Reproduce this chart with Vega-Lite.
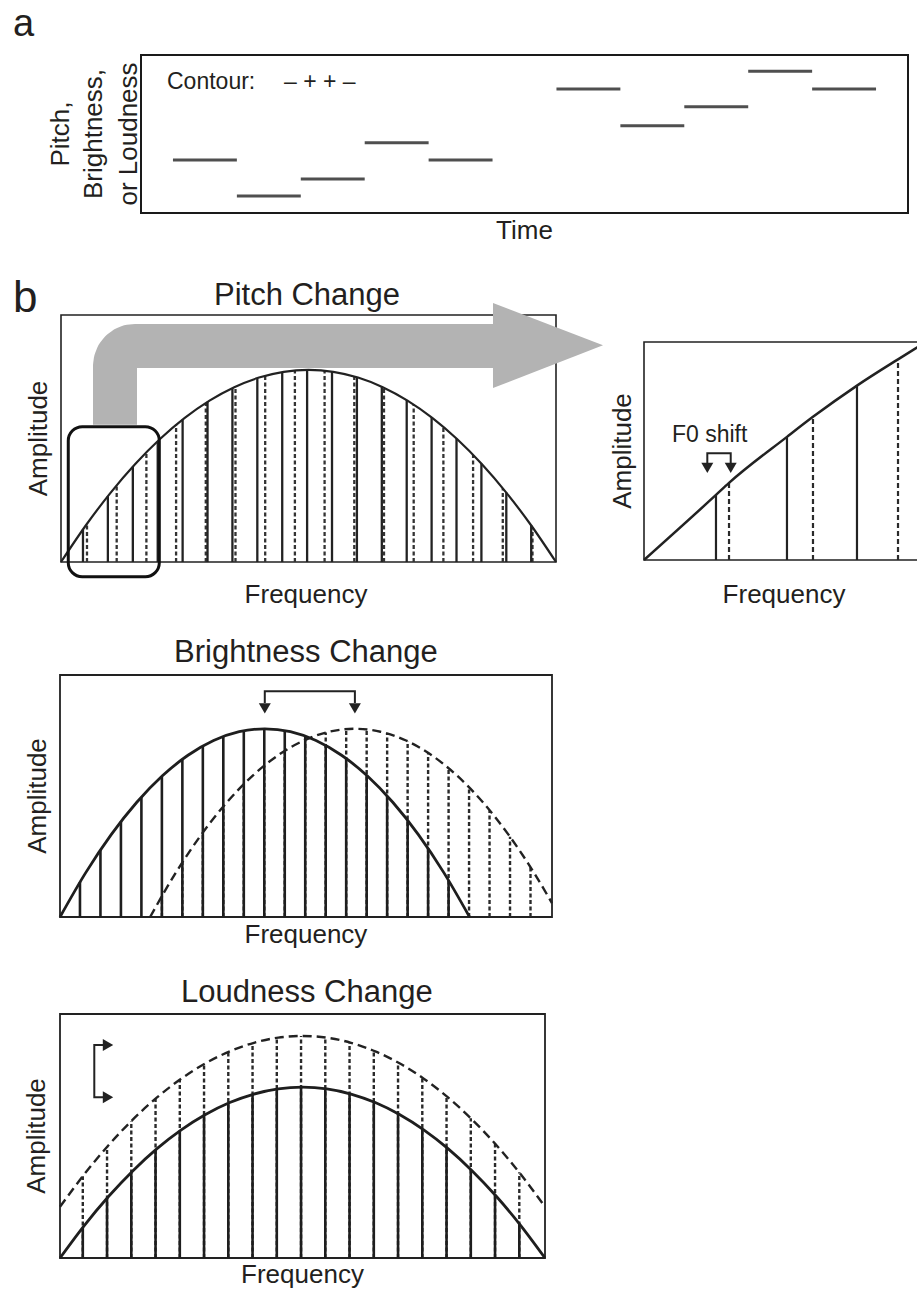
{
"$schema":"https://vega.github.io/schema/vega-lite/v6.json",
"width":917,"height":1289,"padding":0,"autosize":{"type":"none"},"background":"white",
"config":{"view":{"stroke":null},"axis":{"disable":true},"font":"Liberation Sans"},
"resolve":{"scale":{"x":"independent","y":"independent"}},
"layer":[
{"encoding":{"x":{"field":"x","type":"quantitative","scale":{"domain":[0,12],"range":[141,908],"nice":false,"zero":false},"axis":null},"y":{"field":"y","type":"quantitative","scale":{"domain":[0,10],"range":[213,55],"nice":false,"zero":false},"axis":null}},
"layer":[
{"data":{"values":[{"x":0,"x2":12,"y":0,"y2":10}]},"mark":{"type":"rect","filled":false,"color":"#1a1a1a","strokeWidth":2},"encoding":{"x2":{"field":"x2"},"y2":{"field":"y2"}}},
{"data":{"values":[{"x":0.5,"x2":1.5,"y":3.35},{"x":1.5,"x2":2.5,"y":1.08},{"x":2.5,"x2":3.5,"y":2.15},{"x":3.5,"x2":4.5,"y":4.45},{"x":4.5,"x2":5.5,"y":3.35},{"x":6.5,"x2":7.5,"y":7.85},{"x":7.5,"x2":8.5,"y":5.53},{"x":8.5,"x2":9.5,"y":6.73},{"x":9.5,"x2":10.5,"y":8.97},{"x":10.5,"x2":11.5,"y":7.85}]},"mark":{"type":"rule","color":"#4f4f4f","strokeWidth":3},"encoding":{"x2":{"field":"x2"}}},
{"data":{"values":[{"x":-2.003,"y":11.2,"label":"a"}]},"mark":{"type":"text","font":"Liberation Sans","fontSize":38,"align":"left","baseline":"alphabetic","color":"#231f20"},"encoding":{"text":{"field":"label"}}},
{"data":{"values":[{"x":0.407,"y":7.83,"label":"Contour:"},{"x":2.238,"y":7.83,"label":"– + + –"}]},"mark":{"type":"text","font":"Liberation Sans","fontSize":23,"align":"left","baseline":"alphabetic","color":"#231f20"},"encoding":{"text":{"field":"label"}}},
{"data":{"values":[{"x":-1.127,"y":5,"label":"Pitch,"},{"x":-0.61,"y":5,"label":"Brightness,"},{"x":-0.063,"y":5,"label":"or Loudness"}]},"mark":{"type":"text","font":"Liberation Sans","fontSize":26,"angle":270,"align":"center","baseline":"alphabetic","color":"#231f20"},"encoding":{"text":{"field":"label"}}},
{"data":{"values":[{"x":6,"y":-1.66,"label":"Time"}]},"mark":{"type":"text","font":"Liberation Sans","fontSize":26,"align":"center","baseline":"alphabetic","color":"#231f20"},"encoding":{"text":{"field":"label"}}}
]},
{"encoding":{"x":{"field":"x","type":"quantitative","scale":{"domain":[0,10],"range":[61,556],"nice":false,"zero":false},"axis":null},"y":{"field":"y","type":"quantitative","scale":{"domain":[0,9],"range":[562,315],"nice":false,"zero":false},"axis":null}},
"layer":[
{"data":{"values":[{"x":0,"x2":10,"y":0,"y2":9}]},"mark":{"type":"rect","filled":false,"color":"#222222","strokeWidth":1.6},"encoding":{"x2":{"field":"x2"},"y2":{"field":"y2"}}},
{"data":{"values":[{"x":1},{"x":2},{"x":3},{"x":4},{"x":5},{"x":6},{"x":7},{"x":8},{"x":9}]},"mark":{"type":"point","shape":"M0,0V1","size":64,"filled":false,"color":"#333333","strokeWidth":1,"opacity":1},"encoding":{"y":{"datum":9,"type":"quantitative","scale":{"domain":[0,9],"range":[562,315],"nice":false,"zero":false},"axis":null}}},
{"data":{"values":[{"x":1},{"x":2},{"x":3},{"x":4},{"x":5},{"x":6},{"x":7},{"x":8},{"x":9}]},"mark":{"type":"point","shape":"M0,0V-1","size":64,"filled":false,"color":"#333333","strokeWidth":1,"opacity":1},"encoding":{"y":{"datum":0,"type":"quantitative","scale":{"domain":[0,9],"range":[562,315],"nice":false,"zero":false},"axis":null}}},
{"data":{"values":[{"y":1},{"y":2},{"y":3},{"y":4},{"y":5},{"y":6},{"y":7},{"y":8}]},"mark":{"type":"point","shape":"M0,0H1","size":64,"filled":false,"color":"#333333","strokeWidth":1,"opacity":1},"encoding":{"x":{"datum":0,"type":"quantitative","scale":{"domain":[0,10],"range":[61,556],"nice":false,"zero":false},"axis":null}}},
{"data":{"values":[{"y":1},{"y":2},{"y":3},{"y":4},{"y":5},{"y":6},{"y":7},{"y":8}]},"mark":{"type":"point","shape":"M0,0H-1","size":64,"filled":false,"color":"#333333","strokeWidth":1,"opacity":1},"encoding":{"x":{"datum":10,"type":"quantitative","scale":{"domain":[0,10],"range":[61,556],"nice":false,"zero":false},"axis":null}}},
{"data":{"values":[{"x":0.525,"y":1.39},{"x":1.125,"y":2.8},{"x":1.725,"y":4.0},{"x":2.325,"y":5.0},{"x":2.925,"y":5.79},{"x":3.525,"y":6.39},{"x":4.125,"y":6.79},{"x":4.725,"y":6.98},{"x":5.325,"y":6.97},{"x":5.925,"y":6.76},{"x":6.525,"y":6.35},{"x":7.125,"y":5.74},{"x":7.725,"y":4.92},{"x":8.325,"y":3.9},{"x":8.925,"y":2.69},{"x":9.525,"y":1.27}]},"mark":{"type":"rule","color":"#333333","strokeWidth":2.3,"strokeDash":[4,2.5]},"encoding":{"y":{"datum":0,"type":"quantitative","scale":{"domain":[0,9],"range":[562,315],"nice":false,"zero":false},"axis":null},"y2":{"field":"y"}}},
{"data":{"values":[{"x":0.444,"y":1.19},{"x":0.947,"y":2.4},{"x":1.451,"y":3.47},{"x":1.954,"y":4.4},{"x":2.457,"y":5.19},{"x":2.96,"y":5.84},{"x":3.463,"y":6.34},{"x":3.966,"y":6.7},{"x":4.469,"y":6.92},{"x":4.972,"y":7.0},{"x":5.475,"y":6.94},{"x":5.978,"y":6.73},{"x":6.481,"y":6.39},{"x":6.984,"y":5.9},{"x":7.487,"y":5.27},{"x":7.99,"y":4.5},{"x":8.493,"y":3.58},{"x":8.996,"y":2.53},{"x":9.499,"y":1.33}]},"mark":{"type":"rule","color":"#222222","strokeWidth":2.3},"encoding":{"y":{"datum":0,"type":"quantitative","scale":{"domain":[0,9],"range":[562,315],"nice":false,"zero":false},"axis":null},"y2":{"field":"y"}}},
{"data":{"values":[{"x":0,"y":0},{"x":0.5,"y":1.33},{"x":1,"y":2.52},{"x":1.5,"y":3.57},{"x":2,"y":4.48},{"x":2.5,"y":5.25},{"x":3,"y":5.88},{"x":3.5,"y":6.37},{"x":4,"y":6.72},{"x":4.5,"y":6.93},{"x":5,"y":7.0},{"x":5.5,"y":6.93},{"x":6,"y":6.72},{"x":6.5,"y":6.37},{"x":7,"y":5.88},{"x":7.5,"y":5.25},{"x":8,"y":4.48},{"x":8.5,"y":3.57},{"x":9,"y":2.52},{"x":9.5,"y":1.33},{"x":10,"y":0}]},"mark":{"type":"line","color":"#222222","strokeWidth":2.2,"interpolate":"monotone"}},
{"data":{"values":[{"x":0.147,"x2":1.986,"y":-0.536,"y2":4.931}]},"mark":{"type":"rect","filled":false,"color":"#111111","strokeWidth":3,"cornerRadius":14},"encoding":{"x2":{"field":"x2"},"y2":{"field":"y2"}}},
{"data":{"values":[{"i":1,"x":1.091,"y":5.0},{"i":2,"x":1.091,"y":7.143},{"i":3,"x":1.105,"y":7.332},{"i":4,"x":1.145,"y":7.507},{"i":5,"x":1.209,"y":7.658},{"i":6,"x":1.293,"y":7.774},{"i":7,"x":1.39,"y":7.847},{"i":8,"x":1.495,"y":7.872},{"i":9,"x":8.75,"y":7.872}]},"mark":{"type":"line","color":"#b3b3b3","strokeWidth":44,"strokeCap":"butt","strokeJoin":"round"},"encoding":{"order":{"field":"i","type":"quantitative"}}},
{"data":{"values":[{"x":8.727,"y":6.34,"y2":9.44},{"x":10.95,"y":7.9,"y2":7.9}]},"mark":{"type":"area","color":"#b3b3b3","orient":"vertical","opacity":1},"encoding":{"y2":{"field":"y2"}}},
{"data":{"values":[{"x":-0.97,"y":9.11,"label":"b"}]},"mark":{"type":"text","font":"Liberation Sans","fontSize":44,"align":"left","baseline":"alphabetic","color":"#231f20"},"encoding":{"text":{"field":"label"}}},
{"data":{"values":[{"x":4.97,"y":9.366,"label":"Pitch Change"}]},"mark":{"type":"text","font":"Liberation Sans","fontSize":31,"align":"center","baseline":"alphabetic","color":"#231f20"},"encoding":{"text":{"field":"label"}}},
{"data":{"values":[{"x":4.95,"y":-1.494,"label":"Frequency"}]},"mark":{"type":"text","font":"Liberation Sans","fontSize":26,"align":"center","baseline":"alphabetic","color":"#231f20"},"encoding":{"text":{"field":"label"}}},
{"data":{"values":[{"x":-0.283,"y":4.5,"label":"Amplitude"}]},"mark":{"type":"text","font":"Liberation Sans","fontSize":26,"angle":270,"align":"center","baseline":"alphabetic","color":"#231f20"},"encoding":{"text":{"field":"label"}}}
]},
{"encoding":{"x":{"field":"x","type":"quantitative","scale":{"domain":[0,4],"range":[644,926],"nice":false,"zero":false},"axis":null},"y":{"field":"y","type":"quantitative","scale":{"domain":[0,4.4],"range":[560,342],"nice":false,"zero":false},"axis":null}},
"layer":[
{"data":{"values":[{"x":0,"x2":4,"y":0,"y2":4.4}]},"mark":{"type":"rect","filled":false,"color":"#222222","strokeWidth":1.6},"encoding":{"x2":{"field":"x2"},"y2":{"field":"y2"}}},
{"data":{"values":[{"x":1},{"x":2},{"x":3}]},"mark":{"type":"point","shape":"M0,0V1","size":64,"filled":false,"color":"#333333","strokeWidth":1,"opacity":1},"encoding":{"y":{"datum":4.4,"type":"quantitative","scale":{"domain":[0,4.4],"range":[560,342],"nice":false,"zero":false},"axis":null}}},
{"data":{"values":[{"x":1},{"x":2},{"x":3}]},"mark":{"type":"point","shape":"M0,0V-1","size":64,"filled":false,"color":"#333333","strokeWidth":1,"opacity":1},"encoding":{"y":{"datum":0,"type":"quantitative","scale":{"domain":[0,4.4],"range":[560,342],"nice":false,"zero":false},"axis":null}}},
{"data":{"values":[{"y":1},{"y":2},{"y":3},{"y":4}]},"mark":{"type":"point","shape":"M0,0H1","size":64,"filled":false,"color":"#333333","strokeWidth":1,"opacity":1},"encoding":{"x":{"datum":0,"type":"quantitative","scale":{"domain":[0,4],"range":[644,926],"nice":false,"zero":false},"axis":null}}},
{"data":{"values":[{"x":1.206,"y":1.556},{"x":2.397,"y":2.889},{"x":3.603,"y":4.05}]},"mark":{"type":"rule","color":"#2a2a2a","strokeWidth":2.2,"strokeDash":[5,3]},"encoding":{"y":{"datum":0,"type":"quantitative","scale":{"domain":[0,4.4],"range":[560,342],"nice":false,"zero":false},"axis":null},"y2":{"field":"y"}}},
{"data":{"values":[{"x":1.021,"y":1.313},{"x":2.028,"y":2.485},{"x":3.021,"y":3.52}]},"mark":{"type":"rule","color":"#222222","strokeWidth":2.2},"encoding":{"y":{"datum":0,"type":"quantitative","scale":{"domain":[0,4.4],"range":[560,342],"nice":false,"zero":false},"axis":null},"y2":{"field":"y"}}},
{"data":{"values":[{"x":0,"y":0},{"x":1.021,"y":1.313},{"x":1.206,"y":1.556},{"x":2.028,"y":2.485},{"x":2.397,"y":2.889},{"x":3.021,"y":3.52},{"x":3.603,"y":4.05},{"x":4.0,"y":4.4}]},"mark":{"type":"line","color":"#222222","strokeWidth":2.5,"interpolate":"monotone"}},
{"data":{"values":[{"i":1,"x":0.898,"y":1.93},{"i":2,"x":0.898,"y":2.156},{"i":3,"x":1.23,"y":2.156},{"i":4,"x":1.23,"y":1.93}]},"mark":{"type":"line","color":"#222222","strokeWidth":2},"encoding":{"order":{"field":"i","type":"quantitative"}}},
{"data":{"values":[{"x":0.898,"y":1.86},{"x":1.23,"y":1.86}]},"mark":{"type":"point","shape":"triangle-down","size":144,"filled":true,"color":"#222222","opacity":1}},
{"data":{"values":[{"x":0.397,"y":2.384,"label":"F0 shift"}]},"mark":{"type":"text","font":"Liberation Sans","fontSize":23,"align":"left","baseline":"alphabetic","color":"#231f20"},"encoding":{"text":{"field":"label"}}},
{"data":{"values":[{"x":1.986,"y":-0.869,"label":"Frequency"}]},"mark":{"type":"text","font":"Liberation Sans","fontSize":26,"align":"center","baseline":"alphabetic","color":"#231f20"},"encoding":{"text":{"field":"label"}}},
{"data":{"values":[{"x":-0.184,"y":2.2,"label":"Amplitude"}]},"mark":{"type":"text","font":"Liberation Sans","fontSize":26,"angle":270,"align":"center","baseline":"alphabetic","color":"#231f20"},"encoding":{"text":{"field":"label"}}}
]},
{"encoding":{"x":{"field":"x","type":"quantitative","scale":{"domain":[0,4.805],"range":[60,552],"nice":false,"zero":false},"axis":null},"y":{"field":"y","type":"quantitative","scale":{"domain":[0,9],"range":[917,675],"nice":false,"zero":false},"axis":null}},
"layer":[
{"data":{"values":[{"x":0,"x2":4.805,"y":0,"y2":9}]},"mark":{"type":"rect","filled":false,"color":"#222222","strokeWidth":1.8},"encoding":{"x2":{"field":"x2"},"y2":{"field":"y2"}}},
{"data":{"values":[{"x":1},{"x":2},{"x":3},{"x":4}]},"mark":{"type":"point","shape":"M0,0V1","size":64,"filled":false,"color":"#333333","strokeWidth":1,"opacity":1},"encoding":{"y":{"datum":9,"type":"quantitative","scale":{"domain":[0,9],"range":[917,675],"nice":false,"zero":false},"axis":null}}},
{"data":{"values":[{"x":1},{"x":2},{"x":3},{"x":4}]},"mark":{"type":"point","shape":"M0,0V-1","size":64,"filled":false,"color":"#333333","strokeWidth":1,"opacity":1},"encoding":{"y":{"datum":0,"type":"quantitative","scale":{"domain":[0,9],"range":[917,675],"nice":false,"zero":false},"axis":null}}},
{"data":{"values":[{"y":1},{"y":2},{"y":3},{"y":4},{"y":5},{"y":6},{"y":7},{"y":8}]},"mark":{"type":"point","shape":"M0,0H1","size":64,"filled":false,"color":"#333333","strokeWidth":1,"opacity":1},"encoding":{"x":{"datum":0,"type":"quantitative","scale":{"domain":[0,4.805],"range":[60,552],"nice":false,"zero":false},"axis":null}}},
{"data":{"values":[{"y":1},{"y":2},{"y":3},{"y":4},{"y":5},{"y":6},{"y":7},{"y":8}]},"mark":{"type":"point","shape":"M0,0H-1","size":64,"filled":false,"color":"#333333","strokeWidth":1,"opacity":1},"encoding":{"x":{"datum":4.805,"type":"quantitative","scale":{"domain":[0,4.805],"range":[60,552],"nice":false,"zero":false},"axis":null}}},
{"data":{"values":[{"x":0.995,"y":0.78},{"x":1.195,"y":2.03},{"x":1.395,"y":3.14},{"x":1.595,"y":4.11},{"x":1.795,"y":4.94},{"x":1.995,"y":5.63},{"x":2.195,"y":6.18},{"x":2.395,"y":6.59},{"x":2.595,"y":6.86},{"x":2.795,"y":6.99},{"x":2.995,"y":6.98},{"x":3.195,"y":6.83},{"x":3.395,"y":6.54},{"x":3.595,"y":6.11},{"x":3.795,"y":5.53},{"x":3.995,"y":4.82},{"x":4.195,"y":3.97},{"x":4.395,"y":2.98},{"x":4.595,"y":1.85}]},"mark":{"type":"rule","color":"#2a2a2a","strokeWidth":2.4,"strokeDash":[4,2.5]},"encoding":{"y":{"datum":0,"type":"quantitative","scale":{"domain":[0,9],"range":[917,675],"nice":false,"zero":false},"axis":null},"y2":{"field":"y"}}},
{"data":{"values":[{"x":0.195,"y":1.3},{"x":0.395,"y":2.49},{"x":0.595,"y":3.55},{"x":0.795,"y":4.46},{"x":0.995,"y":5.23},{"x":1.195,"y":5.87},{"x":1.395,"y":6.36},{"x":1.595,"y":6.71},{"x":1.795,"y":6.93},{"x":1.995,"y":7.0},{"x":2.195,"y":6.93},{"x":2.395,"y":6.73},{"x":2.595,"y":6.38},{"x":2.795,"y":5.89},{"x":2.995,"y":5.27},{"x":3.195,"y":4.5},{"x":3.395,"y":3.59},{"x":3.595,"y":2.55},{"x":3.795,"y":1.36}]},"mark":{"type":"rule","color":"#1e1e1e","strokeWidth":2.6},"encoding":{"y":{"datum":0,"type":"quantitative","scale":{"domain":[0,9],"range":[917,675],"nice":false,"zero":false},"axis":null},"y2":{"field":"y"}}},
{"data":{"values":[{"x":0.88,"y":0},{"x":1.13,"y":1.641},{"x":1.38,"y":3.063},{"x":1.63,"y":4.266},{"x":1.88,"y":5.25},{"x":2.13,"y":6.016},{"x":2.38,"y":6.563},{"x":2.63,"y":6.891},{"x":2.88,"y":7.0},{"x":3.13,"y":6.891},{"x":3.38,"y":6.563},{"x":3.63,"y":6.016},{"x":3.88,"y":5.25},{"x":4.13,"y":4.266},{"x":4.38,"y":3.063},{"x":4.63,"y":1.641},{"x":4.805,"y":0.515}]},"mark":{"type":"line","color":"#222222","strokeWidth":2.4,"strokeDash":[9,5],"interpolate":"monotone"}},
{"data":{"values":[{"x":0,"y":0},{"x":0.25,"y":1.641},{"x":0.5,"y":3.063},{"x":0.75,"y":4.266},{"x":1,"y":5.25},{"x":1.25,"y":6.016},{"x":1.5,"y":6.563},{"x":1.75,"y":6.891},{"x":2,"y":7.0},{"x":2.25,"y":6.891},{"x":2.5,"y":6.563},{"x":2.75,"y":6.016},{"x":3,"y":5.25},{"x":3.25,"y":4.266},{"x":3.5,"y":3.063},{"x":3.75,"y":1.641},{"x":4,"y":0}]},"mark":{"type":"line","color":"#1e1e1e","strokeWidth":2.8,"interpolate":"monotone"}},
{"data":{"values":[{"i":1,"x":2.0,"y":7.96},{"i":2,"x":2.0,"y":8.4},{"i":3,"x":2.88,"y":8.4},{"i":4,"x":2.88,"y":7.96}]},"mark":{"type":"line","color":"#222222","strokeWidth":2},"encoding":{"order":{"field":"i","type":"quantitative"}}},
{"data":{"values":[{"x":2.0,"y":7.76},{"x":2.88,"y":7.76}]},"mark":{"type":"point","shape":"triangle-down","size":144,"filled":true,"color":"#222222","opacity":1}},
{"data":{"values":[{"x":2.402,"y":9.48,"label":"Brightness Change"}]},"mark":{"type":"text","font":"Liberation Sans","fontSize":31,"align":"center","baseline":"alphabetic","color":"#231f20"},"encoding":{"text":{"field":"label"}}},
{"data":{"values":[{"x":2.402,"y":-0.97,"label":"Frequency"}]},"mark":{"type":"text","font":"Liberation Sans","fontSize":26,"align":"center","baseline":"alphabetic","color":"#231f20"},"encoding":{"text":{"field":"label"}}},
{"data":{"values":[{"x":-0.137,"y":4.5,"label":"Amplitude"}]},"mark":{"type":"text","font":"Liberation Sans","fontSize":26,"angle":270,"align":"center","baseline":"alphabetic","color":"#231f20"},"encoding":{"text":{"field":"label"}}}
]},
{"encoding":{"x":{"field":"x","type":"quantitative","scale":{"domain":[0,10],"range":[60,545],"nice":false,"zero":false},"axis":null},"y":{"field":"y","type":"quantitative","scale":{"domain":[0,10],"range":[1258,1014],"nice":false,"zero":false},"axis":null}},
"layer":[
{"data":{"values":[{"x":0,"x2":10,"y":0,"y2":10}]},"mark":{"type":"rect","filled":false,"color":"#222222","strokeWidth":1.8},"encoding":{"x2":{"field":"x2"},"y2":{"field":"y2"}}},
{"data":{"values":[{"x":1},{"x":2},{"x":3},{"x":4},{"x":5},{"x":6},{"x":7},{"x":8},{"x":9}]},"mark":{"type":"point","shape":"M0,0V1","size":64,"filled":false,"color":"#333333","strokeWidth":1,"opacity":1},"encoding":{"y":{"datum":10,"type":"quantitative","scale":{"domain":[0,10],"range":[1258,1014],"nice":false,"zero":false},"axis":null}}},
{"data":{"values":[{"x":1},{"x":2},{"x":3},{"x":4},{"x":5},{"x":6},{"x":7},{"x":8},{"x":9}]},"mark":{"type":"point","shape":"M0,0V-1","size":64,"filled":false,"color":"#333333","strokeWidth":1,"opacity":1},"encoding":{"y":{"datum":0,"type":"quantitative","scale":{"domain":[0,10],"range":[1258,1014],"nice":false,"zero":false},"axis":null}}},
{"data":{"values":[{"y":1},{"y":2},{"y":3},{"y":4},{"y":5},{"y":6},{"y":7},{"y":8},{"y":9}]},"mark":{"type":"point","shape":"M0,0H1","size":64,"filled":false,"color":"#333333","strokeWidth":1,"opacity":1},"encoding":{"x":{"datum":0,"type":"quantitative","scale":{"domain":[0,10],"range":[60,545],"nice":false,"zero":false},"axis":null}}},
{"data":{"values":[{"y":1},{"y":2},{"y":3},{"y":4},{"y":5},{"y":6},{"y":7},{"y":8},{"y":9}]},"mark":{"type":"point","shape":"M0,0H-1","size":64,"filled":false,"color":"#333333","strokeWidth":1,"opacity":1},"encoding":{"x":{"datum":10,"type":"quantitative","scale":{"domain":[0,10],"range":[60,545],"nice":false,"zero":false},"axis":null}}},
{"data":{"values":[{"x":0.47,"y":3.35},{"x":0.97,"y":4.55},{"x":1.47,"y":5.61},{"x":1.97,"y":6.53},{"x":2.47,"y":7.31},{"x":2.97,"y":7.95},{"x":3.47,"y":8.45},{"x":3.97,"y":8.8},{"x":4.47,"y":9.02},{"x":4.97,"y":9.1},{"x":5.47,"y":9.04},{"x":5.97,"y":8.84},{"x":6.47,"y":8.5},{"x":6.97,"y":8.01},{"x":7.47,"y":7.39},{"x":7.97,"y":6.63},{"x":8.47,"y":5.73},{"x":8.97,"y":4.69},{"x":9.47,"y":3.51}]},"mark":{"type":"rule","color":"#2a2a2a","strokeWidth":2.4,"strokeDash":[4,2.5]},"encoding":{"y":{"datum":0,"type":"quantitative","scale":{"domain":[0,10],"range":[1258,1014],"nice":false,"zero":false},"axis":null},"y2":{"field":"y"}}},
{"data":{"values":[{"x":0.47,"y":1.25},{"x":0.97,"y":2.45},{"x":1.47,"y":3.51},{"x":1.97,"y":4.43},{"x":2.47,"y":5.21},{"x":2.97,"y":5.85},{"x":3.47,"y":6.35},{"x":3.97,"y":6.7},{"x":4.47,"y":6.92},{"x":4.97,"y":7.0},{"x":5.47,"y":6.94},{"x":5.97,"y":6.74},{"x":6.47,"y":6.4},{"x":6.97,"y":5.91},{"x":7.47,"y":5.29},{"x":7.97,"y":4.53},{"x":8.47,"y":3.63},{"x":8.97,"y":2.59},{"x":9.47,"y":1.41}]},"mark":{"type":"rule","color":"#1e1e1e","strokeWidth":2.6},"encoding":{"y":{"datum":0,"type":"quantitative","scale":{"domain":[0,10],"range":[1258,1014],"nice":false,"zero":false},"axis":null},"y2":{"field":"y"}}},
{"data":{"values":[{"x":0,"y":2.1},{"x":0.5,"y":3.43},{"x":1,"y":4.62},{"x":1.5,"y":5.67},{"x":2,"y":6.58},{"x":2.5,"y":7.35},{"x":3,"y":7.98},{"x":3.5,"y":8.47},{"x":4,"y":8.82},{"x":4.5,"y":9.03},{"x":5,"y":9.1},{"x":5.5,"y":9.03},{"x":6,"y":8.82},{"x":6.5,"y":8.47},{"x":7,"y":7.98},{"x":7.5,"y":7.35},{"x":8,"y":6.58},{"x":8.5,"y":5.67},{"x":9,"y":4.62},{"x":9.5,"y":3.43},{"x":10,"y":2.1}]},"mark":{"type":"line","color":"#222222","strokeWidth":2.4,"strokeDash":[9,5],"interpolate":"monotone"}},
{"data":{"values":[{"x":0,"y":0},{"x":0.5,"y":1.33},{"x":1,"y":2.52},{"x":1.5,"y":3.57},{"x":2,"y":4.48},{"x":2.5,"y":5.25},{"x":3,"y":5.88},{"x":3.5,"y":6.37},{"x":4,"y":6.72},{"x":4.5,"y":6.93},{"x":5,"y":7.0},{"x":5.5,"y":6.93},{"x":6,"y":6.72},{"x":6.5,"y":6.37},{"x":7,"y":5.88},{"x":7.5,"y":5.25},{"x":8,"y":4.48},{"x":8.5,"y":3.57},{"x":9,"y":2.52},{"x":9.5,"y":1.33},{"x":10,"y":0}]},"mark":{"type":"line","color":"#1e1e1e","strokeWidth":2.8,"interpolate":"monotone"}},
{"data":{"values":[{"i":1,"x":0.887,"y":8.73},{"i":2,"x":0.707,"y":8.73},{"i":3,"x":0.707,"y":6.59},{"i":4,"x":0.887,"y":6.59}]},"mark":{"type":"line","color":"#222222","strokeWidth":2},"encoding":{"order":{"field":"i","type":"quantitative"}}},
{"data":{"values":[{"x":0.99,"y":8.73},{"x":0.99,"y":6.59}]},"mark":{"type":"point","shape":"triangle-right","size":144,"filled":true,"color":"#222222","opacity":1}},
{"data":{"values":[{"x":5.09,"y":10.5,"label":"Loudness Change"}]},"mark":{"type":"text","font":"Liberation Sans","fontSize":31,"align":"center","baseline":"alphabetic","color":"#231f20"},"encoding":{"text":{"field":"label"}}},
{"data":{"values":[{"x":5.0,"y":-1.02,"label":"Frequency"}]},"mark":{"type":"text","font":"Liberation Sans","fontSize":26,"align":"center","baseline":"alphabetic","color":"#231f20"},"encoding":{"text":{"field":"label"}}},
{"data":{"values":[{"x":-0.299,"y":5,"label":"Amplitude"}]},"mark":{"type":"text","font":"Liberation Sans","fontSize":26,"angle":270,"align":"center","baseline":"alphabetic","color":"#231f20"},"encoding":{"text":{"field":"label"}}}
]}
]
}
